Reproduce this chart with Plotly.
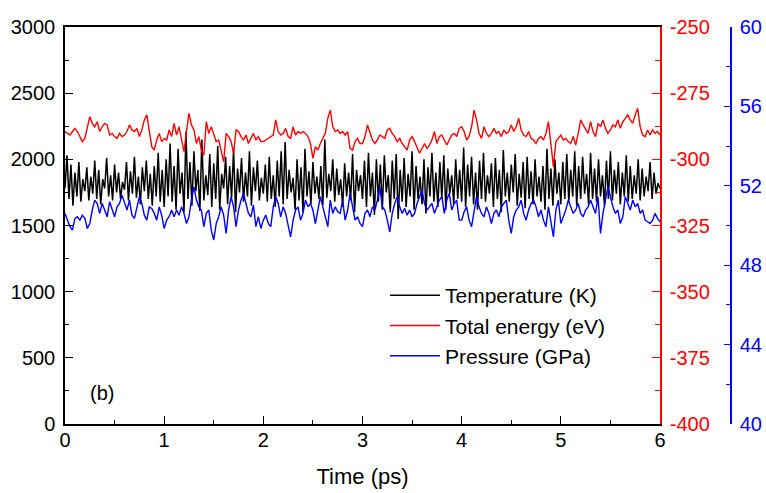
import plotly.graph_objects as go

# ---------------- data ----------------
temp_step = 0.02   # ps
temperature_K = [
    1780, 2030, 1700, 1960, 1650, 1900, 1720, 1980, 1680, 1850, 1760, 1940, 1690, 1870, 1740, 1990, 1700, 1920, 1660, 1850,
    1780, 2010, 1720, 1880, 1690, 1960, 1750, 1900, 1700, 1830, 1770, 1980, 1690, 1910, 1740, 2020, 1710, 1870, 1660, 1940,
    1760, 1990, 1700, 1890, 1650, 1950, 1720, 2050, 1680, 1920,
    1640, 2000, 1720, 2120, 1680, 1950, 1620, 2080, 1740, 1900, 1600, 2210, 1700, 1980, 1650, 2060, 1760, 1920, 1610, 2150,
    1690, 1880, 1730, 2040, 1640, 1970, 1700, 2100, 1620, 1890, 1780, 2020, 1660, 1950, 1710, 2080, 1600, 1930, 1750, 2010,
    1680, 1900, 1720, 2060, 1650, 1940, 1760, 1990, 1690, 1860,
    1740, 1960, 1680, 2020, 1700, 1880, 1640, 1990, 1720, 2060, 1660, 2130, 1700, 1920, 1750, 1860, 1620, 2000, 1690, 1940,
    1600, 2080, 1720, 1910, 1660, 1980, 1740, 1870, 1700, 1950, 1650, 2150, 1710, 1890, 1760, 2000, 1680, 1930, 1730, 1850,
    1640, 1970, 1720, 1900, 1690, 2040, 1600, 1920, 1760, 1880,
    1700, 1990, 1640, 2050, 1720, 1900, 1580, 2000, 1680, 1960, 1620, 2030, 1750, 1880, 1600, 1990, 1700, 2040, 1550, 1920,
    1680, 2010, 1640, 1890, 1720, 2060, 1620, 1950, 1700, 1870, 1660, 2000, 1590, 1940, 1720, 2050, 1680, 1900, 1640, 1980,
    1700, 2030, 1620, 1930, 1740, 1880, 1660, 2000, 1700, 1920,
    1680, 2090, 1640, 1960, 1720, 2020, 1660, 1900, 1620, 1990, 1700, 2050, 1680, 1880, 1740, 1970, 1640, 2010, 1700, 1920,
    1600, 2070, 1720, 1900, 1680, 1960, 1750, 2040, 1650, 1890, 1710, 1980, 1630, 2020, 1700, 1910, 1660, 2000, 1720, 1870,
    1680, 1950, 1620, 2080, 1700, 1930, 1650, 2000, 1740, 1900,
    1660, 1980, 1700, 2040, 1680, 1920, 1720, 2060, 1650, 1950, 1700, 2020, 1740, 1890, 1660, 2050, 1700, 1930, 1680, 2000,
    1720, 1880, 1650, 1990, 1700, 2060, 1690, 1920, 1740, 1980, 1660, 1900, 1720, 2030, 1680, 1950, 1700, 1880, 1740, 2000,
    1690, 1930, 1720, 1870, 1760, 1980, 1700, 1900, 1740, 1820, 1780,
]

ep_step = 0.025    # ps
energy_eV = [
    -289.5, -290.2, -290.8, -289.5, -288.3, -289.5, -291.4, -293.3, -292.1, -287.7, -283.9, -286.4, -287.7, -285.8, -289.5, -287.7,
    -286.4, -287.0, -290.8, -290.2, -291.4, -292.1, -290.2, -291.4, -290.8, -289.5, -287.0, -288.9, -289.5, -288.3, -291.4, -288.9,
    -285.1, -283.2, -289.5, -295.2, -296.5, -292.7, -290.2, -293.3,
    -292.1, -292.7, -288.9, -291.4, -286.4, -290.8, -287.7, -292.7, -297.1, -289.5, -282.6, -287.0, -288.9, -294.0, -291.4, -296.5,
    -298.4, -285.8, -290.2, -287.7, -290.8, -293.3, -292.7, -296.5, -300.9, -290.2, -291.4, -293.3, -297.7, -288.9, -289.5, -291.4,
    -292.7, -290.8, -294.0, -292.1, -290.2, -292.7, -291.4, -293.3,
    -293.3, -292.7, -292.1, -291.4, -290.8, -285.1, -289.5, -290.8, -290.2, -288.3, -291.4, -292.1, -287.7, -290.8, -289.5, -290.2,
    -289.5, -290.2, -291.4, -294.0, -299.6, -295.2, -296.5, -294.0, -292.1, -290.2, -284.5, -281.4, -287.7, -289.5, -288.9, -290.2,
    -289.5, -290.8, -289.5, -295.9, -296.5, -293.3, -292.1, -294.0,
    -294.0, -291.4, -287.0, -290.2, -292.7, -294.0, -292.7, -290.8, -291.4, -292.1, -288.9, -288.3, -290.2, -291.4, -293.3, -292.1,
    -294.0, -295.2, -296.5, -292.7, -291.4, -293.3, -295.2, -297.7, -295.9, -294.0, -295.9, -294.6, -292.7, -289.5, -294.0, -291.4,
    -290.8, -292.7, -294.6, -292.7, -290.8, -290.2, -291.4, -288.3,
    -287.7, -289.5, -292.7, -291.4, -287.7, -281.4, -285.1, -290.2, -292.1, -287.7, -290.2, -291.4, -290.2, -288.3, -290.2, -289.5,
    -291.4, -288.9, -290.2, -289.5, -287.0, -289.5, -287.7, -284.5, -288.9, -290.8, -291.4, -289.5, -292.1, -292.7, -294.0, -292.1,
    -291.4, -292.7, -290.2, -285.8, -295.2, -302.8, -293.3, -292.1,
    -290.8, -292.7, -292.1, -293.3, -294.0, -291.4, -294.6, -290.2, -285.1, -287.0, -288.9, -290.2, -285.8, -289.5, -291.4, -286.4,
    -287.7, -285.1, -288.3, -290.2, -288.9, -287.0, -287.7, -285.1, -288.3, -285.8, -284.5, -283.2, -285.1, -286.4, -283.2, -280.7,
    -287.7, -290.8, -291.4, -288.9, -290.8, -288.9, -290.2, -289.5, -290.8,
]

pressure_GPa = [
    50.61, 50.27, 49.94, 49.77, 50.36, 50.44, 50.27, 50.52, 50.36, 49.85, 50.10, 50.78, 51.28, 51.11, 50.61, 51.11, 50.78, 50.44, 51.20, 50.78,
    50.44, 50.94, 51.11, 51.53, 51.11, 50.78, 51.28, 50.52, 50.36, 50.94, 51.45, 51.11, 50.52, 50.27, 50.94, 50.86, 50.61, 50.27, 50.94, 50.52,
    49.85, 50.27, 50.44, 50.78, 50.44, 50.78, 50.52, 50.94, 50.61, 50.10, 50.44, 51.28, 51.95, 51.28, 50.94, 50.78, 49.94, 50.61, 50.78, 49.77,
    49.27, 50.10, 50.44, 50.94, 50.52, 49.60, 50.78, 51.45, 50.94, 49.94, 50.78, 51.28, 51.62, 51.11, 50.61, 50.44, 51.03, 49.94, 50.44, 49.85,
    50.27, 50.52, 50.10, 49.94, 50.94, 51.45, 51.11, 50.44, 50.94, 50.61, 49.94, 49.43, 50.27, 50.78, 50.94, 50.27, 50.61, 51.28, 50.94, 51.11,
    50.78, 50.10, 50.78, 51.45, 50.94, 50.44, 49.94, 51.28, 50.61, 50.94, 50.69, 50.61, 51.28, 50.27, 50.78, 51.62, 50.94, 50.27, 50.44, 50.10,
    49.94, 50.61, 50.78, 50.44, 50.94, 50.78, 51.28, 51.95, 50.94, 50.78, 50.27, 49.68, 50.61, 51.11, 51.45, 50.94, 50.61, 50.86, 50.52, 50.78,
    50.44, 50.61, 51.11, 51.45, 51.78, 51.11, 50.78, 50.94, 51.11, 50.61, 50.94, 51.28, 51.45, 50.61, 51.28, 51.62, 50.78, 51.11, 51.28, 50.27,
    50.27, 50.69, 50.94, 50.27, 49.94, 50.61, 51.45, 50.94, 50.61, 50.44, 50.94, 50.61, 50.10, 50.61, 50.78, 50.44, 50.94, 51.11, 51.28, 50.27,
    49.60, 50.44, 50.78, 50.94, 51.28, 50.61, 50.27, 50.78, 51.11, 51.28, 50.94, 50.44, 50.78, 50.27, 49.94, 50.94, 50.27, 49.43, 50.78, 51.28,
    50.10, 50.44, 50.78, 51.28, 50.94, 50.61, 50.78, 51.11, 50.61, 50.44, 50.78, 50.94, 51.28, 50.94, 50.61, 51.45, 49.60, 50.61, 51.28, 51.95,
    51.45, 50.94, 50.61, 50.78, 50.10, 50.44, 51.45, 51.11, 50.78, 51.28, 50.94, 51.11, 50.61, 50.78, 50.27, 50.19, 50.10, 50.27, 50.61, 50.36,
    50.19,
]

time_T = [round(i * temp_step, 4) for i in range(len(temperature_K))]
time_E = [round(i * ep_step, 4) for i in range(len(energy_eV))]
time_P = [round(i * ep_step, 4) for i in range(len(pressure_GPa))]

x_ticks = [0, 1, 2, 3, 4, 5, 6]
y1_ticks = [0, 500, 1000, 1500, 2000, 2500, 3000]
y2_ticks = [-400, -375, -350, -325, -300, -275, -250]
y3_ticks = [40, 44, 48, 52, 56, 60]
names = ["Temperature (K)", "Total energy (eV)", "Pressure (GPa)"]

RED = "#FF0000"
BLUE = "#0000FF"
FONT = "Liberation Sans, Arial, sans-serif"

fig = go.Figure()
fig.add_trace(go.Scatter(x=time_T, y=temperature_K, mode="lines", name=names[0],
                         line=dict(color="black", width=1.5), yaxis="y"))
fig.add_trace(go.Scatter(x=time_E, y=energy_eV, mode="lines", name=names[1],
                         line=dict(color=RED, width=1.4), yaxis="y2"))
fig.add_trace(go.Scatter(x=time_P, y=pressure_GPa, mode="lines", name=names[2],
                         line=dict(color=BLUE, width=1.4), yaxis="y3"))

W, H = 766, 493
L, R, T, B = 65, 35, 27, 69
plot_w = W - L - R
plot_h = H - T - B
x_end = (660 - L) / plot_w

fig.update_layout(
    width=W, height=H,
    margin=dict(l=L, r=R, t=T, b=B, autoexpand=False),
    paper_bgcolor="white", plot_bgcolor="white",
    font=dict(family=FONT, size=20, color="black"),
    showlegend=True,
    legend=dict(x=(385 - L) / plot_w, y=(424 - 275) / plot_h, xanchor="left", yanchor="top",
                bgcolor="rgba(0,0,0,0)", borderwidth=0, font=dict(size=21),
                itemwidth=50, tracegroupgap=0),
    xaxis=dict(domain=[0, x_end], range=[0, 6], tickvals=x_ticks, automargin=False,
               showline=True, linecolor="black", linewidth=1.5, mirror=True,
               ticks="inside", ticklen=8, tickwidth=1.3, tickcolor="black",
               minor=dict(dtick=0.5, ticks="inside", ticklen=4, tickwidth=1.3, tickcolor="black"),
               showgrid=False, zeroline=False, ticklabelstandoff=-3,
               title=dict(text="Time (ps)", font=dict(size=22), standoff=19)),
    yaxis=dict(range=[0, 3000], tickvals=y1_ticks, automargin=False,
               showline=True, linecolor="black", linewidth=1.5,
               ticks="inside", ticklen=8, tickwidth=1.3, tickcolor="black",
               minor=dict(dtick=250, ticks="inside", ticklen=4, tickwidth=1.3, tickcolor="black"),
               showgrid=False, zeroline=False, ticklabelstandoff=4),
    yaxis2=dict(range=[-400, -250], tickvals=y2_ticks, ticktext=[str(v) for v in y2_ticks],
                overlaying="y", side="right", anchor="x", automargin=False,
                showline=True, linecolor=RED, linewidth=1.5,
                ticks="inside", ticklen=8, tickwidth=1.3, tickcolor=RED,
                minor=dict(dtick=12.5, ticks="inside", ticklen=5, tickwidth=1.3, tickcolor=RED),
                tickfont=dict(color=RED), showgrid=False, zeroline=False, ticklabelstandoff=4),
    yaxis3=dict(range=[40, 60], tickvals=y3_ticks, overlaying="y", side="right",
                anchor="free", position=1.0, automargin=False,
                showline=True, linecolor=BLUE, linewidth=1.5,
                ticks="inside", ticklen=6, tickwidth=1.3, tickcolor=BLUE,
                minor=dict(dtick=2, ticks="inside", ticklen=4, tickwidth=1.3, tickcolor=BLUE),
                tickfont=dict(color=BLUE), showgrid=False, zeroline=False, ticklabelstandoff=4),
    annotations=[dict(text="(b)", x=(88 - L) / plot_w, y=(424 - 393) / plot_h, xref="paper", yref="paper",
                      xanchor="left", yanchor="middle", showarrow=False, font=dict(size=20))],
)

fig.write_html("out.html", config={"displayModeBar": False},
               post_script="document.body.style.margin='0';document.body.style.overflow='hidden';")
